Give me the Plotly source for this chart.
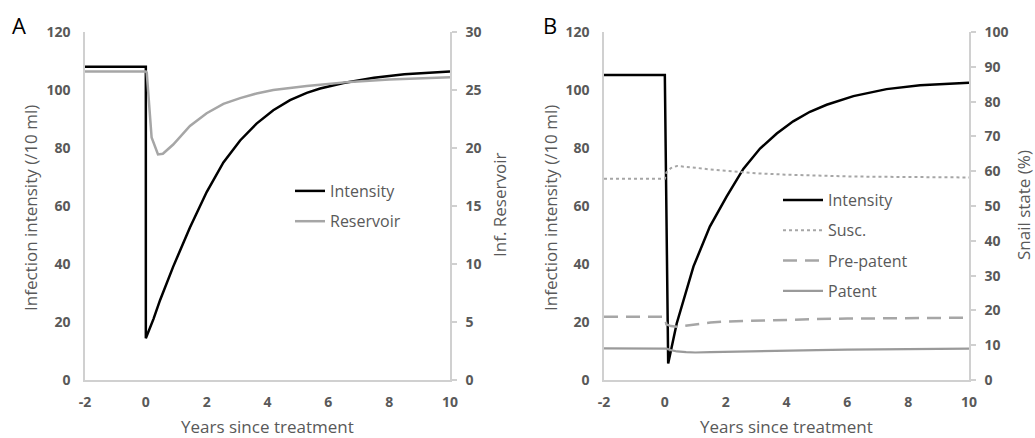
import plotly.graph_objects as go

# ---------------- data ----------------
years_ticks = [-2, 0, 2, 4, 6, 8, 10]
years_ticktext = ["-2", "0", "2", "4", "6", "8", "10"]

# Panel A
a_int_x = [-2, 0, 0, 0.25, 0.47, 0.9, 1.45, 2.0, 2.55, 3.1, 3.64, 4.19, 4.74, 5.29, 5.73, 6.5, 7.5, 8.5, 10]
a_int_y = [108, 108, 14.4, 21, 27.6, 39.1, 52.6, 64.8, 75.0, 82.6, 88.4, 93.0, 96.5, 99.0, 100.5, 102.4, 104.2, 105.4, 106.4]
a_res_x = [-2, 0, 0.03, 0.19, 0.4, 0.56, 0.9, 1.45, 2.0, 2.55, 3.1, 3.64, 4.19, 4.74, 5.29, 5.73, 6.7, 8, 9, 10]
a_res_y = [26.6, 26.6, 26.5, 20.9, 19.45, 19.5, 20.3, 21.9, 23.0, 23.8, 24.3, 24.7, 25.0, 25.2, 25.35, 25.45, 25.7, 25.9, 26.0, 26.1]

# Panel B
b_int_x = [-2, 0.0, 0.11, 0.39, 0.94, 1.48, 2.03, 2.58, 3.13, 3.68, 4.22, 4.77, 5.32, 6.2, 7.29, 8.39, 10]
b_int_y = [105.2, 105.2, 5.7, 19.5, 39.1, 52.9, 63.2, 72.8, 79.8, 85.0, 89.2, 92.5, 94.9, 97.9, 100.3, 101.6, 102.5]
b_state_x = [-2, 0, 0.05, 0.2, 0.4, 0.7, 1, 1.5, 2, 3, 4, 5, 6, 7, 8, 9, 10]
b_susc_y = [57.8, 57.8, 59.6, 60.9, 61.5, 61.3, 61.0, 60.5, 60.1, 59.4, 59.0, 58.7, 58.5, 58.4, 58.3, 58.25, 58.2]
b_pre_y = [18.2, 18.2, 16.0, 15.5, 15.3, 15.6, 16.1, 16.5, 16.8, 17.1, 17.35, 17.5, 17.65, 17.75, 17.8, 17.85, 17.9]
b_pat_y = [9.1, 9.1, 9.0, 8.6, 8.2, 8.0, 7.9, 8.0, 8.1, 8.35, 8.5, 8.6, 8.7, 8.8, 8.85, 8.9, 9.0]

left_range = [0, 120]
a_right_range = [0, 30]
b_right_range = [0, 100]

# ---------------- styles ----------------
FONT = "Open Sans"
GREY_TXT = "#595959"
AXIS_COL = "#d0d0d0"
LINE_GREY = "#a6a6a6"
W, H = 1035, 438
ydom = [58 / H, 406 / H]
xdomA = [85 / W, 450 / W]
xdomB = [604 / W, 969 / W]

fig = go.Figure()

fig.add_trace(go.Scatter(x=a_int_x, y=a_int_y, mode="lines", name="Intensity",
                         line=dict(color="black", width=2.5), xaxis="x", yaxis="y",
                         legend="legend", legendgroup="a1"))
fig.add_trace(go.Scatter(x=a_res_x, y=a_res_y, mode="lines", name="Reservoir",
                         line=dict(color=LINE_GREY, width=2.5), xaxis="x", yaxis="y2",
                         legend="legend", legendgroup="a2"))

fig.add_trace(go.Scatter(x=b_int_x, y=b_int_y, mode="lines", name="Intensity",
                         line=dict(color="black", width=2.5), xaxis="x2", yaxis="y3",
                         legend="legend2", legendgroup="b1"))
fig.add_trace(go.Scatter(x=b_state_x, y=b_susc_y, mode="lines", name="Susc.",
                         line=dict(color=LINE_GREY, width=2, dash="dot"), xaxis="x2", yaxis="y4",
                         legend="legend2", legendgroup="b2"))
fig.add_trace(go.Scatter(x=b_state_x, y=b_pre_y, mode="lines", name="Pre-patent",
                         line=dict(color=LINE_GREY, width=2.5, dash="14px,8px"), xaxis="x2", yaxis="y4",
                         legend="legend2", legendgroup="b3"))
fig.add_trace(go.Scatter(x=b_state_x, y=b_pat_y, mode="lines", name="Patent",
                         line=dict(color="#9a9a9a", width=2.2), xaxis="x2", yaxis="y4",
                         legend="legend2", legendgroup="b4"))

tickfont = dict(family=FONT, size=14, color=GREY_TXT, weight="bold")

xcommon = dict(range=[-2, 10], tickvals=years_ticks, ticktext=years_ticktext,
               showgrid=False, zeroline=False, automargin=False,
               showline=True, linecolor=AXIS_COL, linewidth=1.5, ticks="",
               tickfont=tickfont, ticklabelstandoff=8, fixedrange=True)
yleft = dict(range=left_range, dtick=20, showgrid=False, zeroline=False, showline=True,
             linecolor=AXIS_COL, linewidth=1.5, ticks="", tickfont=tickfont, automargin=False,
             ticklabelstandoff=10, domain=ydom)
yright = dict(showgrid=False, zeroline=False, showline=True, linecolor=AXIS_COL,
              linewidth=1.5, ticks="outside", ticklen=5, tickcolor=AXIS_COL, tickwidth=1.5,
              tickfont=tickfont, ticklabelstandoff=6, side="right", automargin=False)

legfont = dict(family=FONT, size=16, color=GREY_TXT)

fig.update_layout(
    width=W, height=H, autosize=False,
    margin=dict(l=0, r=0, t=0, b=0, pad=0, autoexpand=False),
    paper_bgcolor="white", plot_bgcolor="white",
    showlegend=True,
    xaxis=dict(domain=xdomA, anchor="y", **xcommon),
    xaxis2=dict(domain=xdomB, anchor="y3", **xcommon),
    yaxis=dict(anchor="x", **yleft),
    yaxis2=dict(anchor="x", overlaying="y", range=a_right_range, dtick=5, **yright),
    yaxis3=dict(anchor="x2", **yleft),
    yaxis4=dict(anchor="x2", overlaying="y3", range=b_right_range, dtick=10, **yright),
    legend=dict(x=290 / W, y=1 - 174 / H, xanchor="left", yanchor="top", font=legfont,
                bgcolor="rgba(0,0,0,0)", traceorder="grouped", tracegroupgap=6.5,
                itemwidth=30),
    legend2=dict(x=778 / W, y=1 - 183 / H, xanchor="left", yanchor="top", font=legfont,
                 bgcolor="rgba(0,0,0,0)", traceorder="grouped", tracegroupgap=6.5,
                 itemwidth=40),
)

ann_font = dict(family=FONT, size=17, color=GREY_TXT)
annotations = [
    dict(text="A", x=19 / W, y=1 - 25 / H, font=dict(family=FONT, size=22, color="black"),
         yanchor="middle"),
    dict(text="B", x=550 / W, y=1 - 25 / H, font=dict(family=FONT, size=22, color="black"),
         yanchor="middle"),
    dict(text="Years since treatment", x=267 / W, y=-2 / H, font=ann_font, yanchor="bottom"),
    dict(text="Years since treatment", x=786 / W, y=-2 / H, font=ann_font, yanchor="bottom"),
    dict(text="Infection intensity (/10 ml)", x=30 / W, y=1 - 208 / H, font=ann_font,
         textangle=-90, yanchor="middle"),
    dict(text="Inf. Reservoir", x=500 / W, y=1 - 205 / H, font=ann_font, textangle=-90,
         yanchor="middle"),
    dict(text="Infection intensity (/10 ml)", x=550 / W, y=1 - 208 / H, font=ann_font,
         textangle=-90, yanchor="middle"),
    dict(text="Snail state (%)", x=1024 / W, y=1 - 205 / H, font=ann_font, textangle=-90,
         yanchor="middle"),
]
for a in annotations:
    fig.add_annotation(xref="paper", yref="paper", showarrow=False, xanchor="center", **a)

fig.write_html("out.html", config={"displayModeBar": False},
               post_script="document.body.style.margin='0';document.body.style.overflow='hidden';")
